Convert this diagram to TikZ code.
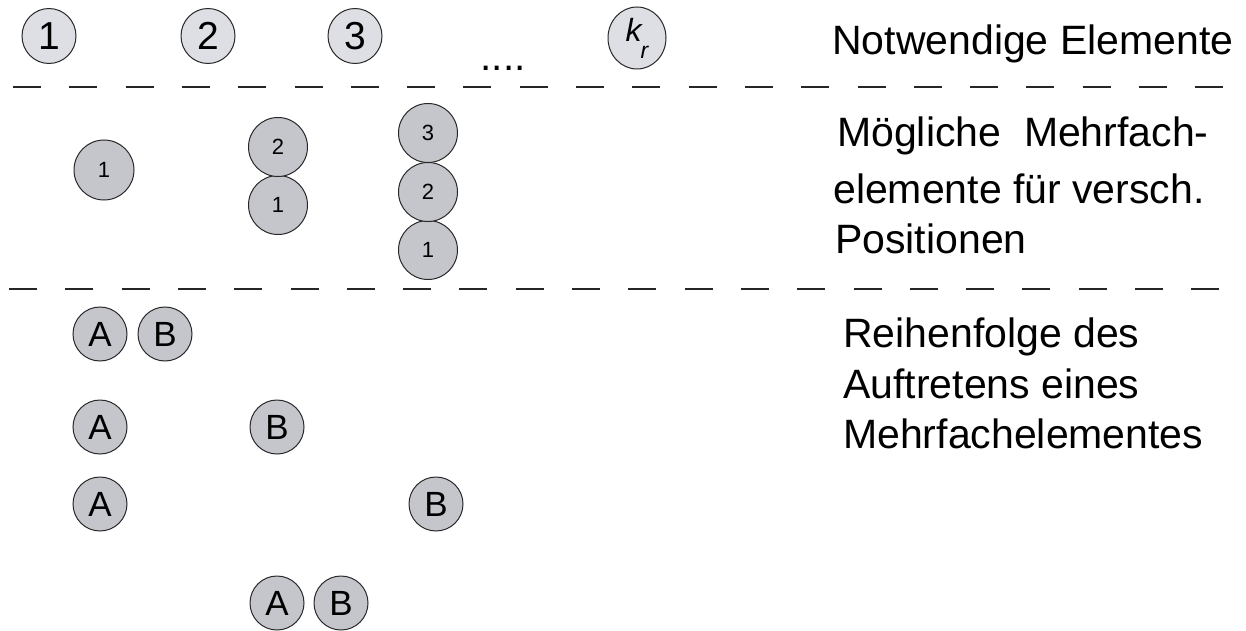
\documentclass[tikz,border=0pt]{standalone}
\usepackage{fontspec}
\setmainfont{Liberation Sans}
\usetikzlibrary{shapes.geometric}
\definecolor{topfill}{RGB}{221,223,228}
\definecolor{elfill}{RGB}{196,198,204}
\definecolor{edge}{RGB}{40,40,40}
\begin{document}
\begin{tikzpicture}[x=1pt,y=-1pt,
  topel/.style={ellipse,draw=edge,line width=1pt,fill=topfill,inner sep=0pt,
     minimum width=54pt,minimum height=55pt,font=\fontsize{39}{39}\selectfont},
  midel/.style={circle,draw=edge,line width=1pt,fill=elfill,inner sep=0pt,
     minimum size=59pt,font=\fontsize{22}{22}\selectfont},
  abel/.style={circle,draw=edge,line width=1pt,fill=elfill,inner sep=0pt,
     minimum size=54pt,font=\fontsize{35}{35}\selectfont},
  label/.style={anchor=base west,inner sep=0pt,font=\fontsize{41}{41}\selectfont},
  sep/.style={line width=2.2pt,draw=black!85,dash pattern=on 28pt off 28.3pt}
]
\useasboundingbox (0,0) rectangle (1246,631);
% top row
\node[topel] (n1) at (49,36) {1};
\node[topel] (n2) at (208,36) {2};
\node[topel] (n3) at (355,36) {3};
\node[inner sep=0pt,anchor=base,font=\fontsize{40.5}{40.5}\selectfont] (dots) at (503,71) {....};
\node[topel,minimum width=58pt,minimum height=62pt] (nk) at (637,38)
  {\raisebox{3pt}{\fontsize{32}{32}\selectfont\itshape k}\kern-1pt\raisebox{-14pt}{\fontsize{23}{23}\selectfont\itshape r}};
\node[label] (t1) at (832,55) {Notwendige Elemente};
% separators
\coordinate (s1a) at (13,87);  \coordinate (s1b) at (1223,87);
\coordinate (s2a) at (9,289);  \coordinate (s2b) at (1219,289);
\draw[sep] (s1a) -- (s1b);
\draw[sep] (s2a) -- (s2b);
% middle section
\node[midel,minimum size=60pt] (m1) at (104,170) {1};
\node[midel] (m21) at (278,205) {1};
\node[midel] (m22) at (278,147) {2};
\node[midel] (m31) at (428,250) {1};
\node[midel] (m32) at (428,192) {2};
\node[midel] (m33) at (428,133) {3};
\node[label] (t2) at (837,147) {Mögliche \ Mehrfach-};
\node[label] (t3) at (833,203) {elemente für versch.};
\node[label] (t4) at (835,253) {Positionen};
% bottom section
\node[abel] (a1) at (100,334) {A};
\node[abel] (b1) at (165,334) {B};
\node[abel] (a2) at (100,427) {A};
\node[abel] (b2) at (277,427) {B};
\node[abel] (a3) at (100,504) {A};
\node[abel] (b3) at (436,504) {B};
\node[abel] (a4) at (277,603) {A};
\node[abel] (b4) at (341,603) {B};
\node[label] (t5) at (843,347) {Reihenfolge des};
\node[label] (t6) at (843,398) {Auftretens eines};
\node[label] (t7) at (843,448) {Mehrfachelementes};
\end{tikzpicture}
\end{document}
